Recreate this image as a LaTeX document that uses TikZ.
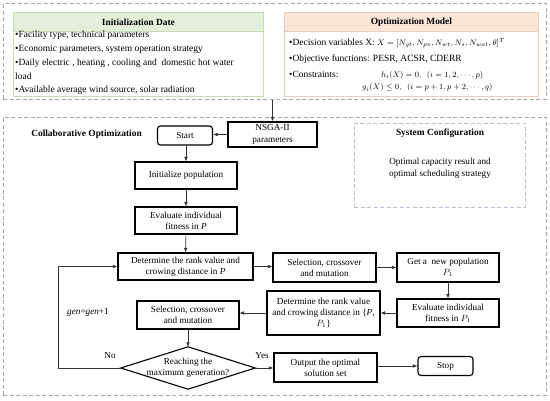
\documentclass[tikz,border=0pt]{standalone}
\usepackage{fontspec}
\setmainfont{Liberation Serif}
\usetikzlibrary{arrows.meta}
\definecolor{greenhd}{HTML}{E2EFDA}
\definecolor{greenbd}{HTML}{C5DDB3}
\definecolor{orangehd}{HTML}{FBE5D6}
\definecolor{orangebd}{HTML}{E6CFC2}
\definecolor{outerbd}{HTML}{A6A6A6}
\definecolor{sysbd}{HTML}{B8C4D6}
\definecolor{arrcol}{HTML}{333333}
\newcommand\flowfont{\fontsize{9.2}{11}\selectfont}
\newcommand\listfont{\fontsize{9.5}{11}\selectfont}
\newcommand\headfont{\fontsize{9.4}{11}\selectfont\bfseries}
\begin{document}
\begin{tikzpicture}[x=1pt,y=-1pt,
  outerbox/.style={draw=outerbd, line width=0.8pt, dash pattern=on 4pt off 2.5pt, minimum width=543, anchor=north west, inner sep=0},
  proc/.style={draw=black, line width=1.1pt, fill=white, align=center, inner sep=1pt, font=\flowfont},
  term/.style={proc, rounded corners=3pt},
  arr/.style={draw=arrcol, line width=0.6pt, -{Latex[length=4.5pt,width=3.6pt]}},
  listline/.style={anchor=west, inner sep=0, font=\listfont, text height=6.6pt, text depth=2pt},
  lbl/.style={inner sep=0, font=\flowfont}
]
\useasboundingbox (0,0) rectangle (550,401);
\fill[white] (0,0) rectangle (550,401);

% outer dashed frames
\node[outerbox, minimum height=96] (topbox) at (3,3) {};
\node[outerbox, minimum height=278] (botbox) at (3,117) {};

% Initialization box
\node[draw=greenbd, line width=0.8pt, fill=white, minimum width=250, minimum height=84, anchor=north west, inner sep=0] (initbox) at (13,12) {};
\node[draw=greenbd, line width=0.8pt, fill=greenhd, minimum width=250, minimum height=19, anchor=north west, inner sep=0, font=\headfont] (inithead) at (13,12) {Initialization Date};
\node[listline] (i1) at (15,35) {•Facility type, technical parameters};
\node[listline] (i2) at (15,49) {•Economic parameters, system operation strategy};
\node[listline] (i3) at (15,63.5) {•Daily electric , heating , cooling and\ \ domestic hot water};
\node[listline] (i4) at (15,77) {load};
\node[listline] (i5) at (15,90.5) {•Available average wind source, solar radiation};

% Optimization model box
\node[draw=orangebd, line width=0.8pt, fill=white, minimum width=254, minimum height=84, anchor=north west, inner sep=0] (optbox) at (284,12) {};
\node[draw=orangebd, line width=0.8pt, fill=orangehd, minimum width=254, minimum height=19, anchor=north west, inner sep=0, font=\headfont] (opthead) at (284,12) {Optimization Model};
\node[listline] (o1) at (289,43) {•Decision variables X: {\footnotesize$X=[N_{gt},N_{pv},N_{wt},N_{s},N_{wat},\theta]^{T}$}};
\node[listline] (o2) at (289,59) {•Objective functions: PESR, ACSR, CDERR};
\node[listline] (o3) at (289,75) {•Constraints:};
\node[listline] (o3m) at (381,75) {{\footnotesize$h_i(X)=0,\ \ (i=1,2,\cdots,p)$}};
\node[listline] (o4) at (362,87.5) {{\footnotesize$g_i(X)\le 0,\ \ (i=p+1,p+2,\cdots,q)$}};

% system configuration
\node[draw=sysbd, line width=0.8pt, dash pattern=on 4pt off 2.5pt, minimum width=171, minimum height=84, inner sep=0] (sys) at (439.5,165) {};
\node[lbl, font=\headfont] (systitle) at (440,133) {System Configuration};
\node[lbl, align=center, font=\fontsize{9.2}{12}\selectfont] (systext) at (440,168) {Optimal capacity result and\\optimal scheduling strategy};

\node[lbl, font=\headfont] (colab) at (86.5,134) {Collaborative Optimization};

% flowchart nodes
\node[proc, minimum width=89, minimum height=25, font=\fontsize{9.2}{12}\selectfont] (nsga) at (272.5,134.5) {NSGA-II\\parameters};
\node[term, minimum width=55, minimum height=19] (start) at (185,135.5) {Start};
\node[proc, minimum width=102, minimum height=27] (init) at (186,175.5) {Initialize population};
\node[proc, minimum width=102, minimum height=27] (evalP) at (186,220.5) {Evaluate individual\\fitness in \textit{P}};
\node[proc, minimum width=135, minimum height=27] (detP) at (185.5,266.5) {Determine the rank value and\\crowing distance in \textit{P}};
\node[proc, minimum width=103, minimum height=29] (sel1) at (324.5,267.5) {Selection, crossover\\and mutation};
\node[proc, minimum width=102, minimum height=29] (newpop) at (448,267.5) {Get a\ \ new population\\$P_1$};
\node[proc, minimum width=102, minimum height=28] (evalP1) at (448,313) {Evaluate individual\\fitness in $P_1$};
\node[proc, minimum width=113, minimum height=44] (detPP) at (323.5,313) {Determine the rank value\\and crowing distance in \{\textit{P},\\$P_1$\}};
\node[proc, minimum width=102, minimum height=28] (sel2) at (188,315) {Selection, crossover\\and mutation};
\node[inner sep=0, minimum width=134, minimum height=42, align=center, font=\flowfont] (dia) at (188,368) {Reaching the\\maximum generation?};
\draw[line width=1.1pt, line join=miter] (dia.north) -- (dia.east) -- (dia.south) -- (dia.west) -- cycle;
\node[proc, minimum width=103, minimum height=29] (out) at (325.5,367.5) {Output the optimal\\solution set};
\node[term, minimum width=55, minimum height=19] (stop) at (445.5,366) {Stop};

% labels
\node[lbl] (yes) at (262,356) {Yes};
\node[lbl] (no) at (110,356) {No};
\node[lbl] (gen) at (88,312) {\textit{gen}=\textit{gen}+1};

% connectors
\draw[arr] (nsga.north |- topbox.south) -- (nsga.north);
\draw[arr] (nsga.west) -- (nsga.west -| start.east);
\draw[arr] (start.south -| init.north) -- (init.north);
\draw[arr] (init) -- (evalP);
\draw[arr] (evalP) -- (detP);
\draw[arr] (detP.east) -- (detP.east -| sel1.west);
\draw[arr] (sel1.east) -- (sel1.east -| newpop.west);
\draw[arr] (newpop) -- (evalP1);
\draw[arr] (evalP1.west) -- (evalP1.west -| detPP.east);
\draw[arr] (detPP.west |- sel2.east) ++(0,-2) coordinate (c1) -- (c1 -| sel2.east);
\draw[arr] (sel2) -- (dia.north);
\draw[arr] (dia.east) -- (dia.east -| out.west);
\draw[arr] (out.east |- stop.west) -- (stop.west);
\draw[arr] (dia.west) -- ++(-63,0) coordinate (c2) |- (detP.west);
\end{tikzpicture}
\end{document}
